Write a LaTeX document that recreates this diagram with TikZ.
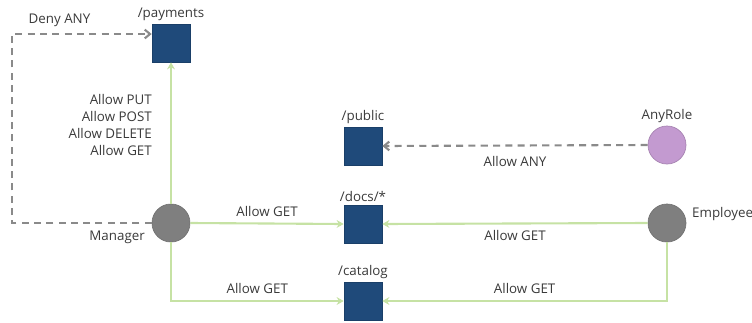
\documentclass[tikz,border=0pt]{standalone}
\usepackage{fontspec}
\setmainfont{Open Sans}
\usetikzlibrary{arrows.meta}
\definecolor{resblue}{HTML}{1F4A7A}
\definecolor{rolegray}{HTML}{7F7F7F}
\definecolor{anypurple}{HTML}{C39AD0}
\definecolor{allowgreen}{HTML}{C6E2A4}
\definecolor{denygray}{HTML}{8A8A8A}
\definecolor{txtgray}{HTML}{3A3A3A}

\begin{document}
\begin{tikzpicture}
  [x=0.02cm,y=-0.02cm,
   every node/.style={font=\fontsize{7.6}{9.5}\selectfont,text=txtgray},
   res/.style={rectangle,fill=resblue,draw=resblue!85!black,minimum size=0.76cm,inner sep=0},
   role/.style={circle,fill=rolegray,draw=rolegray!90!black,minimum size=0.76cm,inner sep=0},
   allow/.style={draw=allowgreen,line width=1.2pt,-{Stealth[length=4pt,width=4.5pt]}},
   deny/.style={draw=denygray,line width=1.2pt,dash pattern=on 4pt off 3pt,-{Straight Barb[length=3pt,width=5pt]}}]
  \useasboundingbox (0,0) rectangle (752,322);

  \node[res] (payments) at (171,43)  {};
  \node[res] (public)   at (363,146) {};
  \node[res] (docs)     at (363,224) {};
  \node[res] (catalog)  at (363,301) {};
  \node[role] (manager)  at (171,223) {};
  \node[role] (employee) at (667,223) {};
  \node[role,fill=anypurple,draw=anypurple!85!black] (anyrole) at (667,145) {};

  \foreach \res/\txt in {payments/{/payments},public/{/public},docs/{/docs/*},catalog/{/catalog}}
    \node[anchor=south,inner sep=1.5pt] (\res lbl) at (\res.north) {\txt};
  \node[anchor=east]  (managerlbl)  at (151,237) {Manager};
  \node[anchor=west]  (employeelbl) at (686,214) {Employee};
  \node[anchor=south,inner sep=1.5pt] (anyrolelbl) at (anyrole.north) {AnyRole};

  \coordinate (denyleft) at (12,34);
  \draw[deny] (manager.west) -- (manager -| denyleft) -- (denyleft)
    -- node[pos=0.34,above] (denylbl) {Deny ANY} (denyleft -| payments.west);
  \draw[deny] (anyrole.west) -- node[below=2pt] (anylbl) {Allow ANY} (public.east);

  \draw[allow] (manager.north) -- (payments.south);
  \node[anchor=east,align=right] (paylbl) at (158,125) {Allow PUT\\Allow POST\\Allow DELETE\\Allow GET};
  \draw[allow] (manager.east) -- node[above] (mdocslbl) {Allow GET} (docs.west);
  \draw[allow] (manager.south) -- (manager |- catalog)
    -- node[above] (mcatlbl) {Allow GET} (catalog.west);
  \draw[allow] (employee.west) -- node[below] (edocslbl) {Allow GET} (docs.east);
  \draw[allow] (employee.south) -- (employee |- catalog)
    -- node[above] (ecatlbl) {Allow GET} (catalog.east);
\end{tikzpicture}
\end{document}
